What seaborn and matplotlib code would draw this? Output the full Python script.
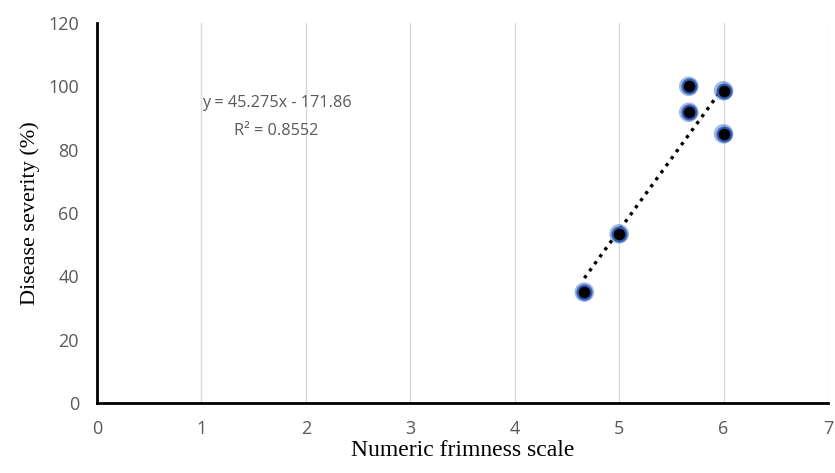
"""
Scatter of disease severity against numeric firmness scale with linear trendline.
"""

import numpy as np
import pandas as pd
import matplotlib
matplotlib.use("Agg")
import matplotlib.pyplot as plt
import seaborn as sns

# Data
firmness = [4.667, 5.0, 5.667, 5.667, 6.0, 6.0]
severity = [35.0, 53.4, 100.0, 91.8, 98.6, 85.0]
slope = 45.275
intercept = -171.86
r_squared = 0.8552
x_ticks = [0, 1, 2, 3, 4, 5, 6, 7]
y_ticks = [0, 20, 40, 60, 80, 100, 120]

df = pd.DataFrame({"firmness": firmness, "severity": severity})
trend_x = [min(firmness), max(firmness)]
trend = pd.DataFrame({"x": trend_x, "y": [slope * v + intercept for v in trend_x]})

sns.set_style("white")
tick_font = ["Open Sans", "DejaVu Sans"]
label_font = ["Liberation Serif", "DejaVu Serif"]

fig = plt.figure(figsize=(8.35, 4.73), dpi=100)
ax = fig.add_axes([0.1162, 0.148, 0.8754, 0.8034])

# trendline
sns.lineplot(data=trend, x="x", y="y", ax=ax, color="black",
             linestyle=(0, (1, 1.6)), linewidth=2.4, zorder=2)

# soft blue glow under markers, then the markers themselves
sns.scatterplot(data=df, x="firmness", y="severity", ax=ax, s=200,
                color="#3565C0", edgecolor="none", alpha=0.45, zorder=3)
sns.scatterplot(data=df, x="firmness", y="severity", ax=ax, s=100,
                color="black", edgecolor="#2F5FB8", linewidth=1.6, zorder=4)

ax.set_xlim(0, 7)
ax.set_ylim(0, 120)
ax.set_xticks(x_ticks)
ax.set_yticks(y_ticks)
ax.grid(axis="x", color="#D9D9D9", linewidth=1)
ax.grid(axis="y", visible=False)
ax.set_axisbelow(True)

for side in ["top", "right"]:
    ax.spines[side].set_visible(False)
for side in ["left", "bottom"]:
    ax.spines[side].set_color("black")
    ax.spines[side].set_linewidth(2)

ax.tick_params(axis="both", length=0, labelcolor="#595959", labelsize=13)
ax.tick_params(axis="x", pad=12)
ax.tick_params(axis="y", pad=13)
for lab in ax.get_xticklabels() + ax.get_yticklabels():
    lab.set_family(tick_font)

ax.set_xlabel("Numeric frimness scale", family=label_font, fontsize=17,
              color="black", labelpad=2)
ax.set_ylabel("Disease severity (%)", family=label_font, fontsize=16,
              color="black", labelpad=6)

ax.text(1.72, 94.7, f"y = {slope}x - {abs(intercept)}", ha="center", va="center",
        family=tick_font, fontsize=11.7, color="#595959")
ax.text(1.72, 86.0, f"R² = {r_squared}", ha="center", va="center",
        family=tick_font, fontsize=11.7, color="#595959")

fig.savefig("out.png", dpi=100)
